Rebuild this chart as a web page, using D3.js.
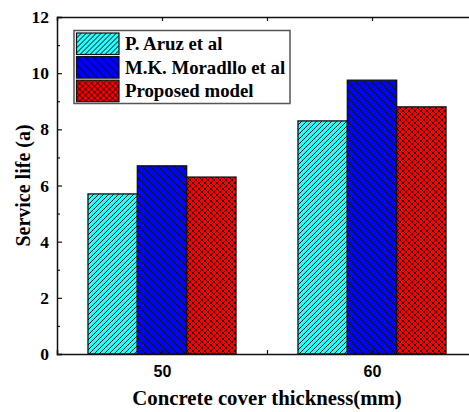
<!DOCTYPE html>
<html>
<head>
<meta charset="utf-8">
<script src="https://cdn.jsdelivr.net/npm/d3@7/dist/d3.min.js"></script>
<style>
  html, body { margin: 0; padding: 0; background: #fff; }
  svg { display: block; }
</style>
</head>
<body>
<svg id="chart" width="469" height="412"></svg>
<script>
// Service life by concrete cover thickness, three prediction sources
const categories = ["50", "60"];
const seriesNames = ["P. Aruz et al", "M.K. Moradllo et al", "Proposed model"];
const aruzValues = [5.7, 8.3];
const moradlloValues = [6.7, 9.75];
const proposedValues = [6.3, 8.8];
const yTicks = [0, 2, 4, 6, 8, 10, 12];
const yMinorTicks = [1, 3, 5, 7, 9, 11];

const seriesValues = [aruzValues, moradlloValues, proposedValues];
const fills = ["url(#hatchCyan)", "url(#hatchBlue)", "url(#hatchRed)"];

const svg = d3.select("#chart");
const plotLeft = 57, plotRight = 477, plotTop = 17, plotBottom = 354;

// hatch patterns
const defs = svg.append("defs");
function linePattern(id, bg, size, dir, sw) {
  const p = defs.append("pattern").attr("id", id)
    .attr("patternUnits", "userSpaceOnUse")
    .attr("width", size).attr("height", size);
  p.append("rect").attr("width", size).attr("height", size).attr("fill", bg);
  const g = p.append("g").attr("stroke", "#000").attr("stroke-width", sw);
  if (dir === "up" || dir === "cross") {
    g.append("path").attr("d", `M${-size/2},${size/2} L${size/2},${-size/2} M0,${size} L${size},0 M${size/2},${size*1.5} L${size*1.5},${size/2}`);
  }
  if (dir === "down" || dir === "cross") {
    g.append("path").attr("d", `M${-size/2},${size/2} L${size/2},${size*1.5} M0,0 L${size},${size} M${size/2},${-size/2} L${size*1.5},${size/2}`);
  }
}
linePattern("hatchCyan", "#22FFFF", 5, "up", 1.0);
linePattern("hatchBlue", "#0000FF", 8, "down", 1.0);
linePattern("hatchRed", "#FF0000", 6, "cross", 0.85);

// scales
const x0 = d3.scaleBand().domain(categories).range([plotLeft, plotRight])
  .paddingInner(0.295).paddingOuter(0.1475);
const x1 = d3.scaleBand().domain(seriesNames).range([0, x0.bandwidth()]);
const xPos = d3.scaleLinear().domain([0.5, 2.5]).range([plotLeft, plotRight]);
const y = d3.scaleLinear().domain([0, 12]).range([plotBottom, plotTop]);

// bars
const groups = svg.append("g").selectAll("g").data(categories).join("g")
  .attr("transform", d => `translate(${x0(d)},0)`);
groups.selectAll("rect")
  .data((c, ci) => seriesNames.map((s, si) => ({ s, si, v: seriesValues[si][ci] })))
  .join("rect")
  .attr("x", d => x1(d.s))
  .attr("width", x1.bandwidth())
  .attr("y", d => y(d.v))
  .attr("height", d => y(0) - y(d.v))
  .attr("fill", d => fills[d.si])
  .attr("stroke", "#111")
  .attr("stroke-width", 1.3);

// axes
const serif = "'Liberation Serif', 'Times New Roman', serif";
const sans = "'Liberation Sans', Arial, sans-serif";

const yAxis = svg.append("g").attr("transform", `translate(${plotLeft},0)`)
  .call(d3.axisLeft(y).tickValues(yTicks).tickSize(-5).tickPadding(8).tickFormat(d3.format("d")));
yAxis.selectAll("text").attr("font-family", serif).attr("font-weight", "bold")
  .attr("font-size", 17.5).attr("fill", "#000");
svg.append("g").attr("transform", `translate(${plotLeft},0)`)
  .call(d3.axisLeft(y).tickValues(yMinorTicks).tickSize(-3).tickFormat(""))
  .select(".domain").remove();

const xAxis = svg.append("g").attr("transform", `translate(0,${plotBottom})`)
  .call(d3.axisBottom(xPos).tickValues([1, 2]).tickSize(-4).tickPadding(12)
    .tickFormat((d, i) => categories[i]));
xAxis.selectAll("text").attr("font-family", sans).attr("font-weight", "bold")
  .attr("font-size", 16).attr("fill", "#000");
svg.append("g").attr("transform", `translate(0,${plotBottom})`)
  .call(d3.axisBottom(xPos).tickValues([1.5]).tickSize(-4).tickFormat(""))
  .select(".domain").remove();

// mirrored top border with ticks
svg.append("g").attr("transform", `translate(0,${plotTop})`)
  .call(d3.axisTop(xPos).tickValues([1, 1.5, 2]).tickSize(-4).tickFormat(""));
svg.selectAll(".domain").attr("stroke", "#111").attr("stroke-width", 1.5);
svg.selectAll(".tick line").attr("stroke", "#111").attr("stroke-width", 1.2);

// axis titles
svg.append("text")
  .attr("transform", `translate(30,${(plotTop + plotBottom) / 2}) rotate(-90)`)
  .attr("text-anchor", "middle")
  .attr("font-family", serif).attr("font-weight", "bold").attr("font-size", 20)
  .text("Service life (a)");
svg.append("text")
  .attr("x", (133 + 401) / 2).attr("y", 405)
  .attr("text-anchor", "middle")
  .attr("font-family", serif).attr("font-weight", "bold").attr("font-size", 20.8)
  .text("Concrete cover thickness(mm)");

// legend
const legend = svg.append("g");
legend.append("rect").attr("x", 74).attr("y", 30.5).attr("width", 216).attr("height", 73)
  .attr("fill", "#fff").attr("stroke", "#555").attr("stroke-width", 1.5);
const items = legend.selectAll("g.item").data(seriesNames).join("g")
  .attr("class", "item")
  .attr("transform", (d, i) => `translate(76.5,${33 + i * 23.6})`);
items.append("rect").attr("width", 42.5).attr("height", 21.5)
  .attr("fill", (d, i) => fills[i]).attr("stroke", "#111").attr("stroke-width", 1.2);
items.append("text").attr("x", 48.5).attr("y", 17)
  .attr("font-family", serif).attr("font-weight", "bold").attr("font-size", 18.8)
  .text(d => d);
</script>
</body>
</html>
